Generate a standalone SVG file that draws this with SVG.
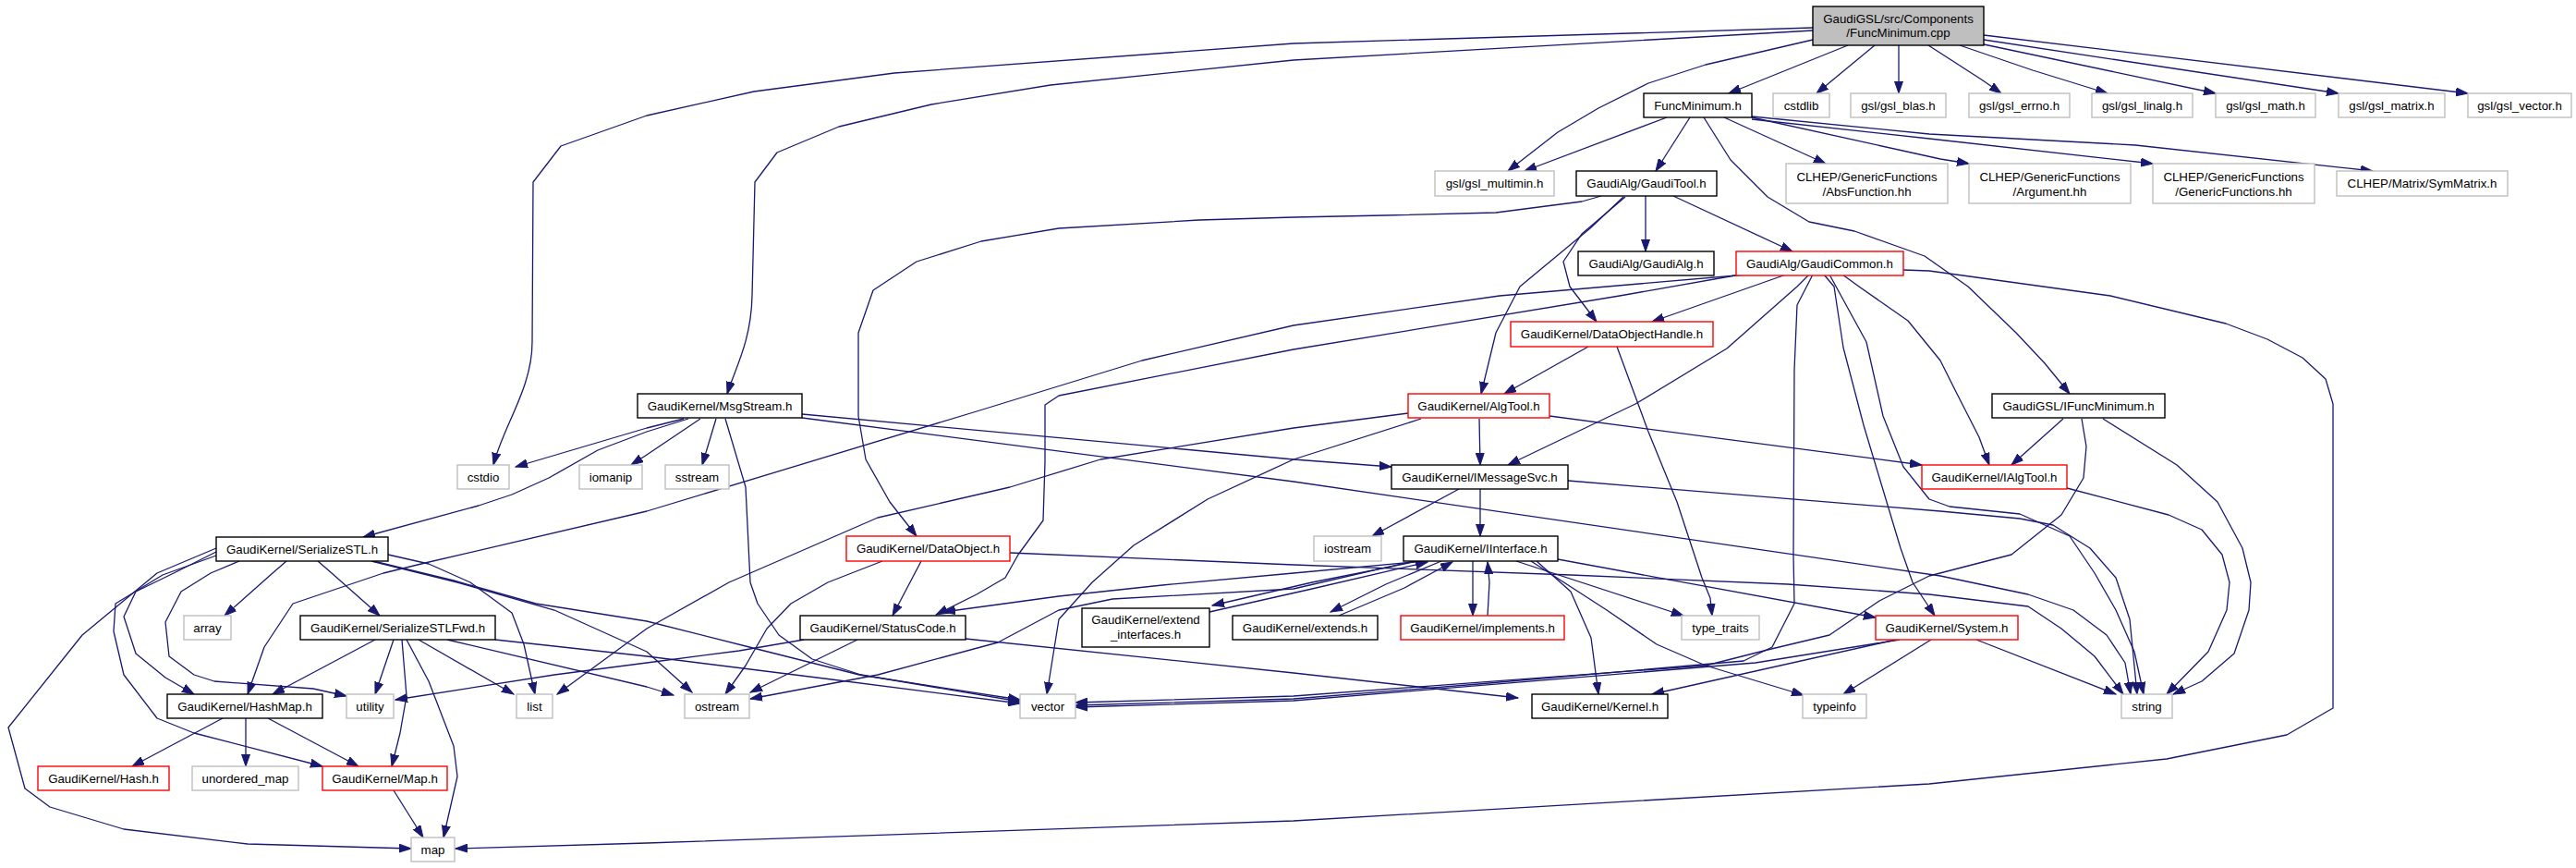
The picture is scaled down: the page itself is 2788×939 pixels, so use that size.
<svg xmlns="http://www.w3.org/2000/svg" width="2788" height="939" viewBox="0 0 2788 939">
<defs>
<marker id="a" markerWidth="14" markerHeight="10" refX="13" refY="5" orient="auto" markerUnits="userSpaceOnUse"><path d="M0,0.5 L13,5 L0,9.5 z" fill="#191970" stroke="#191970" stroke-width="1"/></marker>
</defs>
<style>
rect{stroke-width:1.4}
.b{fill:#ffffff;stroke:#000000}
.g{fill:#ffffff;stroke:#bfbfbf}
.r{fill:#ffffff;stroke:#ff0000}
.m{fill:#bfbfbf;stroke:#000000}
text{font-family:"Liberation Sans",Arial,Helvetica,sans-serif;font-size:13.3px;fill:#000000;text-anchor:middle}
#edges path{fill:none;stroke:#191970;stroke-width:1.3;stroke-linejoin:round;marker-end:url(#a)}
</style>
<rect width="2788" height="939" fill="#ffffff"/>
<g id="edges">
<path d="M1962,30 L1400,47 L968,79 L816,99 L700,125 L607,158 L577,197 L576,370 C576,420 545,460 534,503"/>
<path d="M1962,33 L1400,65 L1137,92 L1008,113 L908,137 L841,165 L817,197 L814,320 C813,370 795,400 787,426"/>
<path d="M1962,43 L1846,70 L1784,90 L1730,117 L1686,143 L1632,185"/>
<path d="M2000,49 L1871,101"/>
<path d="M2029,49 L1966,101"/>
<path d="M2055,49 L2055,101"/>
<path d="M2087,49 L2115,67 L2146,87 L2166,101"/>
<path d="M2121,49 L2200,76 L2281,101"/>
<path d="M2147,48 L2398,101"/>
<path d="M2147,43 L2531,101"/>
<path d="M2147,38 L2671,101"/>
<path d="M1804,127 L1650,185"/>
<path d="M1829,127 L1792,185"/>
<path d="M1866,127 L1976,177"/>
<path d="M1896,127 L2100,172 L2131,177"/>
<path d="M1896,129 L2088,150 L2330,177"/>
<path d="M1896,126 L2088,145 L2311,157 L2568,185"/>
<path d="M1844,127 L1873,173 L1913,213 L1958,240 L2007,250 L2083,277 L2130,310 L2182,360 L2213,393 L2240,426"/>
<path d="M1781,212 L1781,272"/>
<path d="M1811,212 L1940,272"/>
<path d="M1733,212 L1712,218 L1619,230 L1498,233 L1400,235 L1298,238 L1146,247 L1062,261 L992,283 L945,314 L929,360 L929,450 L937,497 L963,543 L992,580"/>
<path d="M1757,213 L1721,247 L1645,310 L1619,360 L1603,426"/>
<path d="M1759,213 L1712,253 L1692,283 L1699,310 L1728,348"/>
<path d="M1933,297 L1788,348"/>
<path d="M1958,297 L1945,310 L1869,377 L1770,437 L1632,503"/>
<path d="M1994,297 L2012,310 L2065,347 L2100,390 L2115,420 L2142,473 L2153,503"/>
<path d="M1891,297 L1623,320 L1400,352 L1236,390 L1057,445 L700,553 L460,609 L415,620 L317,653 L286,700 L268,751"/>
<path d="M1878,298 L1753,320 L1400,378 L1146,428 L1131,438 L1131,500 L1129,563 L1102,600 L1088,625 L1057,643 L1013,665"/>
<path d="M1962,297 L1945,330 L1942,400 L1941,600 L1942,653 L1918,700 L1887,715 L1600,740 L1400,756 L1164,763"/>
<path d="M1974,297 L1985,310 L1995,376 L2017,460 L2057,593 L2070,630 L2094,666"/>
<path d="M1980,297 L2020,370 L2038,450 L2060,505 L2088,540 L2110,548 L2186,556 L2240,580 L2267,620 L2290,660 L2310,705 L2320,751"/>
<path d="M2060,292 L2088,293 L2284,320 L2409,350 L2454,367 L2492,387 L2517,410 L2525,437 L2525,766 L2475,795 L2345,821 L2088,848 L1400,888 L700,912 L493,918"/>
<path d="M740,453 L700,463 L558,505"/>
<path d="M745,453 L700,467 L647,487 L594,517 L554,535 L518,547 L393,581"/>
<path d="M758,453 L700,492 L683,503"/>
<path d="M775,453 L760,503"/>
<path d="M785,453 L807,527 L812,630 L820,653 L843,687 L879,713 L932,730 L1104,759"/>
<path d="M868,448 L1400,497 L1506,505"/>
<path d="M868,452 L1400,521 L2100,623 L2195,643 L2244,660 L2280,687 L2300,717 L2306,751"/>
<path d="M1601,453 L1602,503"/>
<path d="M1677,450 L2080,503"/>
<path d="M1524,447 L1400,463 L1191,497 L1093,527 L950,560 L789,630 L700,680 L603,751"/>
<path d="M1538,453 L1400,497 L1307,540 L1227,590 L1182,630 L1146,670 L1133,751"/>
<path d="M1719,375 L1628,426"/>
<path d="M1750,375 L1784,467 L1815,543 L1842,625 L1851,647 L1853,666"/>
<path d="M1579,529 L1485,580"/>
<path d="M1602,529 L1602,580"/>
<path d="M1697,520 L2100,553 L2186,561 L2222,568 L2262,593 L2290,625 L2305,670 L2313,751"/>
<path d="M2233,453 L2177,503"/>
<path d="M2276,453 L2356,503 L2400,543 L2427,593 L2436,630 L2434,660 L2418,707 L2383,737 L2352,751"/>
<path d="M2253,453 L2258,483 L2255,517 L2231,557 L2177,600 L2088,623 L2034,650 L1980,687 L1913,703 L1846,720 L1400,753 L1164,760"/>
<path d="M2237,528 L2347,557 L2383,573 L2405,600 L2413,630 L2410,660 L2390,705 L2345,751"/>
<path d="M997,607 L966,666"/>
<path d="M955,607 L896,630 L856,653 L830,680 L807,720 L785,751"/>
<path d="M1093,598 L1400,611 L1700,622 L1935,632 L2088,643 L2195,656 L2231,680 L2267,710 L2298,751"/>
<path d="M1540,607 L1400,620 L1258,633 L1146,645 L1021,662"/>
<path d="M1530,607 L1400,637 L1204,648 L1146,660 L1080,695 L950,730 L812,756"/>
<path d="M1535,607 L1420,630 L1312,655"/>
<path d="M1309,662 L1420,637 L1545,608"/>
<path d="M1560,607 L1500,632 L1440,662"/>
<path d="M1449,666 L1520,636 L1572,608"/>
<path d="M1594,607 L1594,666"/>
<path d="M1610,666 L1612,630 L1610,608"/>
<path d="M1641,607 L1822,666"/>
<path d="M1686,605 L2030,668"/>
<path d="M1663,607 L1700,640 L1722,690 L1730,751"/>
<path d="M1657,607 L1739,660 L1793,697 L1846,720 L1952,752"/>
<path d="M870,692 L800,704 L700,717 L600,730 L428,757"/>
<path d="M928,692 L812,749"/>
<path d="M1045,691 L1400,728 L1643,755"/>
<path d="M2052,692 L1788,751"/>
<path d="M2090,692 L1995,751"/>
<path d="M2139,692 L2290,751"/>
<path d="M2056,692 L1900,717 L1400,758 L1164,765"/>
<path d="M310,607 L295,620 L243,666"/>
<path d="M344,607 L359,620 L411,666"/>
<path d="M420,600 L464,610 L509,630 L554,663 L567,697 L579,751"/>
<path d="M402,607 L495,630 L600,660 L700,705 L749,749"/>
<path d="M400,606 L491,628 L580,653 L700,672 L811,700 L930,730 L1104,757"/>
<path d="M259,607 L228,620 L196,640 L179,673 L183,710 L210,730 L232,737 L339,745 L375,753"/>
<path d="M234,597 L188,620 L147,640 L134,667 L147,707 L179,733 L210,751"/>
<path d="M234,601 L176,622 L125,653 L123,683 L134,730 L170,777 L210,793 L349,829"/>
<path d="M234,593 L170,620 L89,687 L9,787 L27,853 L54,873 L134,897 L268,913 L445,918"/>
<path d="M406,692 L295,751"/>
<path d="M426,692 L406,751"/>
<path d="M435,692 L440,753 L433,793 L424,829"/>
<path d="M440,692 L464,737 L491,807 L495,840 L480,906"/>
<path d="M453,692 L556,751"/>
<path d="M484,692 L700,743 L729,752"/>
<path d="M536,692 L700,710 L900,735 L1104,761"/>
<path d="M241,777 L143,829"/>
<path d="M266,777 L266,829"/>
<path d="M290,777 L388,829"/>
<path d="M426,855 L458,906"/>
</g>
<g id="n_main"><rect class="m" x="1962" y="7" width="185" height="42"/><text x="2054.5" y="25">GaudiGSL/src/Components</text><text x="2054.5" y="40">/FuncMinimum.cpp</text></g>
<g id="n_funcmin"><rect class="b" x="1779" y="101" width="117" height="26"/><text x="1837.5" y="118.7">FuncMinimum.h</text></g>
<g id="n_cstdlib"><rect class="g" x="1919" y="101" width="61" height="26"/><text x="1949.5" y="118.7">cstdlib</text></g>
<g id="n_blas"><rect class="g" x="2003" y="101" width="103" height="26"/><text x="2054.5" y="118.7">gsl/gsl_blas.h</text></g>
<g id="n_errno"><rect class="g" x="2131" y="101" width="109" height="26"/><text x="2185.5" y="118.7">gsl/gsl_errno.h</text></g>
<g id="n_linalg"><rect class="g" x="2264" y="101" width="109" height="26"/><text x="2318.5" y="118.7">gsl/gsl_linalg.h</text></g>
<g id="n_math"><rect class="g" x="2398" y="101" width="108" height="26"/><text x="2452" y="118.7">gsl/gsl_math.h</text></g>
<g id="n_matrix"><rect class="g" x="2531" y="101" width="115" height="26"/><text x="2588.5" y="118.7">gsl/gsl_matrix.h</text></g>
<g id="n_vectorh"><rect class="g" x="2671" y="101" width="112" height="26"/><text x="2727" y="118.7">gsl/gsl_vector.h</text></g>
<g id="n_multimin"><rect class="g" x="1553" y="185" width="129" height="27"/><text x="1617.5" y="203.2">gsl/gsl_multimin.h</text></g>
<g id="n_gauditool"><rect class="b" x="1706" y="185" width="152" height="27"/><text x="1782" y="203.2">GaudiAlg/GaudiTool.h</text></g>
<g id="n_absfunc"><rect class="g" x="1933" y="177" width="175" height="43"/><text x="2020.5" y="195.5">CLHEP/GenericFunctions</text><text x="2020.5" y="211.5">/AbsFunction.hh</text></g>
<g id="n_argument"><rect class="g" x="2131" y="177" width="175" height="43"/><text x="2218.5" y="195.5">CLHEP/GenericFunctions</text><text x="2218.5" y="211.5">/Argument.hh</text></g>
<g id="n_genfunc"><rect class="g" x="2330" y="177" width="175" height="43"/><text x="2417.5" y="195.5">CLHEP/GenericFunctions</text><text x="2417.5" y="211.5">/GenericFunctions.hh</text></g>
<g id="n_symmatrix"><rect class="g" x="2529" y="185" width="185" height="27"/><text x="2621.5" y="203.2">CLHEP/Matrix/SymMatrix.h</text></g>
<g id="n_gaudialg"><rect class="b" x="1708" y="272" width="147" height="26"/><text x="1781.5" y="289.7">GaudiAlg/GaudiAlg.h</text></g>
<g id="n_gaudicommon"><rect class="r" x="1879" y="272" width="181" height="26"/><text x="1969.5" y="289.7">GaudiAlg/GaudiCommon.h</text></g>
<g id="n_dohandle"><rect class="r" x="1635" y="348" width="219" height="27"/><text x="1744.5" y="366.2">GaudiKernel/DataObjectHandle.h</text></g>
<g id="n_msgstream"><rect class="b" x="690" y="426" width="178" height="26"/><text x="779" y="443.7">GaudiKernel/MsgStream.h</text></g>
<g id="n_algtool"><rect class="r" x="1524" y="426" width="153" height="26"/><text x="1600.5" y="443.7">GaudiKernel/AlgTool.h</text></g>
<g id="n_ifuncmin"><rect class="b" x="2156" y="426" width="187" height="26"/><text x="2249.5" y="443.7">GaudiGSL/IFuncMinimum.h</text></g>
<g id="n_cstdio"><rect class="g" x="495" y="503" width="56" height="26"/><text x="523" y="520.7">cstdio</text></g>
<g id="n_iomanip"><rect class="g" x="627" y="503" width="68" height="26"/><text x="661" y="520.7">iomanip</text></g>
<g id="n_sstream"><rect class="g" x="720" y="503" width="69" height="26"/><text x="754.5" y="520.7">sstream</text></g>
<g id="n_imessagesvc"><rect class="b" x="1506" y="503" width="191" height="26"/><text x="1601.5" y="520.7">GaudiKernel/IMessageSvc.h</text></g>
<g id="n_ialgtool"><rect class="r" x="2080" y="503" width="157" height="26"/><text x="2158.5" y="520.7">GaudiKernel/IAlgTool.h</text></g>
<g id="n_serializestl"><rect class="b" x="234" y="581" width="186" height="26"/><text x="327" y="598.7">GaudiKernel/SerializeSTL.h</text></g>
<g id="n_dataobject"><rect class="r" x="916" y="580" width="177" height="27"/><text x="1004.5" y="598.2">GaudiKernel/DataObject.h</text></g>
<g id="n_iostream"><rect class="g" x="1422" y="580" width="73" height="27"/><text x="1458.5" y="598.2">iostream</text></g>
<g id="n_iinterface"><rect class="b" x="1519" y="580" width="167" height="27"/><text x="1602.5" y="598.2">GaudiKernel/IInterface.h</text></g>
<g id="n_array"><rect class="g" x="199" y="666" width="51" height="26"/><text x="224.5" y="683.7">array</text></g>
<g id="n_serializefwd"><rect class="b" x="325" y="666" width="211" height="26"/><text x="430.5" y="683.7">GaudiKernel/SerializeSTLFwd.h</text></g>
<g id="n_statuscode"><rect class="b" x="866" y="666" width="179" height="26"/><text x="955.5" y="683.7">GaudiKernel/StatusCode.h</text></g>
<g id="n_extendif"><rect class="b" x="1171" y="658" width="138" height="42"/><text x="1240" y="675">GaudiKernel/extend</text><text x="1240" y="691">_interfaces.h</text></g>
<g id="n_extends"><rect class="b" x="1334" y="666" width="157" height="26"/><text x="1412.5" y="683.7">GaudiKernel/extends.h</text></g>
<g id="n_implements"><rect class="r" x="1516" y="666" width="177" height="26"/><text x="1604.5" y="683.7">GaudiKernel/implements.h</text></g>
<g id="n_typetraits"><rect class="g" x="1820" y="666" width="84" height="26"/><text x="1862" y="683.7">type_traits</text></g>
<g id="n_system"><rect class="r" x="2030" y="666" width="154" height="26"/><text x="2107" y="683.7">GaudiKernel/System.h</text></g>
<g id="n_hashmap"><rect class="b" x="181" y="751" width="168" height="26"/><text x="265" y="768.7">GaudiKernel/HashMap.h</text></g>
<g id="n_utility"><rect class="g" x="375" y="751" width="51" height="26"/><text x="400.5" y="768.7">utility</text></g>
<g id="n_list"><rect class="g" x="559" y="751" width="39" height="26"/><text x="578.5" y="768.7">list</text></g>
<g id="n_ostream"><rect class="g" x="741" y="751" width="70" height="26"/><text x="776" y="768.7">ostream</text></g>
<g id="n_vector"><rect class="g" x="1104" y="751" width="60" height="26"/><text x="1134" y="768.7">vector</text></g>
<g id="n_kernel"><rect class="b" x="1658" y="751" width="147" height="26"/><text x="1731.5" y="768.7">GaudiKernel/Kernel.h</text></g>
<g id="n_typeinfo"><rect class="g" x="1951" y="751" width="69" height="26"/><text x="1985.5" y="768.7">typeinfo</text></g>
<g id="n_string"><rect class="g" x="2296" y="751" width="55" height="26"/><text x="2323.5" y="768.7">string</text></g>
<g id="n_hash"><rect class="r" x="41" y="829" width="142" height="26"/><text x="112" y="846.7">GaudiKernel/Hash.h</text></g>
<g id="n_unorderedmap"><rect class="g" x="208" y="829" width="115" height="26"/><text x="265.5" y="846.7">unordered_map</text></g>
<g id="n_maph"><rect class="r" x="349" y="829" width="135" height="26"/><text x="416.5" y="846.7">GaudiKernel/Map.h</text></g>
<g id="n_map"><rect class="g" x="445" y="906" width="47" height="26"/><text x="468.5" y="923.7">map</text></g>
</svg>
